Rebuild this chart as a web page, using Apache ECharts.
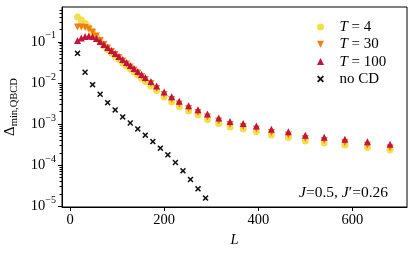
<!DOCTYPE html>
<html><head><meta charset="utf-8">
<script src="https://cdn.jsdelivr.net/npm/echarts@6/dist/echarts.min.js"></script>
<style>html,body{margin:0;padding:0;background:#fff}#c{width:415px;height:254px}</style>
</head><body><div id="c"></div>
<script>
// ---- data ----
const L_T = [16,24,32,40,48,56,64,72,80,88,96,104,112,120,128,136,144,152,160,172,184,200,216,232,252,272,292,316,340,368,396,428,464,500,540,584,632,680];
const gap_T4 = [0.398,0.3367,0.2768,0.2214,0.1720,0.1338,0.1011,0.0786,0.0646,0.0531,0.0437,0.0369,0.0304,0.0257,0.0217,0.0184,0.0155,0.0128,0.0108,0.00839,0.00652,0.00453,0.00342,0.00266,0.00207,0.00165,0.00129,0.00103,0.000845,0.000756,0.000657,0.000540,0.000470,0.000386,0.000345,0.000309,0.000268,0.000234];
const gap_T30 = [0.2276,0.2276,0.2214,0.2035,0.1720,0.1376,0.1070,0.0855,0.0703,0.0578,0.0489,0.0413,0.0340,0.0287,0.0243,0.0205,0.0174,0.0143,0.0121,0.00964,0.00729,0.00521,0.00394,0.00306,0.00238,0.00190,0.00148,0.00118,0.000972,0.000869,0.000756,0.000621,0.000540,0.000444,0.000397,0.000355,0.000304,0.000265];
const gap_T100 = [0.1070,0.1230,0.1338,0.1376,0.1338,0.1196,0.1011,0.0855,0.0723,0.0611,0.0517,0.0437,0.0369,0.0312,0.0264,0.0223,0.0189,0.0160,0.0135,0.0108,0.00839,0.00599,0.00461,0.00356,0.00278,0.00223,0.00175,0.00140,0.00115,0.00103,0.000894,0.000743,0.000650,0.000531,0.000475,0.000425,0.000369,0.000323];
const L_noCD = [16,32,48,64,80,96,112,128,144,160,176,192,208,224,240,256,272,288];
const gap_noCD = [0.0522,0.0181,0.00904,0.00528,0.00330,0.00220,0.00149,0.00106,0.00076,0.000535,0.000374,0.000259,0.000178,0.000116,0.0000727,0.0000447,0.0000266,0.0000158];
const seriesNames = ['T = 4','T = 30','T = 100','no CD'];
const xTicks = [0,200,400,600];
const yTicks = [1e-5,1e-4,1e-3,1e-2,1e-1];
const yMinorTicks = [2e-5,3e-5,4e-5,5e-5,6e-5,7e-5,8e-5,9e-5,2e-4,3e-4,4e-4,5e-4,6e-4,7e-4,8e-4,9e-4,2e-3,3e-3,4e-3,5e-3,6e-3,7e-3,8e-3,9e-3,2e-2,3e-2,4e-2,5e-2,6e-2,7e-2,8e-2,9e-2,0.2,0.3,0.4,0.5,0.6];
const annotation = ['J','=0.5, ','J','′=0.26'];

// ---- chart ----
const X_MIN = -17, X_MAX = 716, Y_MIN = 9.6e-6, Y_MAX = 0.7;
const FF = '"Liberation Serif", "DejaVu Serif", serif';
const zip = (a, b) => a.map((v, i) => [v, b[i]]);
const XPATH = 'path://M1.8,0L5,3.2L8.2,0L10,1.8L6.8,5L10,8.2L8.2,10L5,6.8L1.8,10L0,8.2L3.2,5L0,1.8Z';
const DOWN = 'path://M0,0L10,0L5,10Z';
const UP = 'path://M5,0L10,10L0,10Z';

const chart = echarts.init(document.getElementById('c'), null, {renderer: 'canvas'});
chart.setOption({
  animation: false,
  backgroundColor: '#fff',
  grid: {left: 62, right: 8, top: 7, bottom: 47, show: true, borderColor: '#000', borderWidth: 1, backgroundColor: 'transparent', containLabel: false, outerBoundsMode: 'none'},
  xAxis: {
    type: 'value', min: X_MIN, max: X_MAX,
    name: 'L', nameLocation: 'middle', nameGap: 26,
    nameTextStyle: {fontFamily: FF, fontSize: 14.5, fontStyle: 'italic', color: '#000'},
    axisLine: {show: true, onZero: false, lineStyle: {color: '#000', width: 1}},
    axisTick: {show: true, length: 4, customValues: xTicks, lineStyle: {color: '#000'}},
    axisLabel: {customValues: xTicks, fontFamily: FF, fontSize: 14.5, color: '#000', margin: 6},
    splitLine: {show: false}
  },
  yAxis: [{
    type: 'log', logBase: 10, min: Y_MIN, max: Y_MAX,
    name: '{d|Δ}{s|min,QBCD}', nameLocation: 'middle', nameGap: 40, nameRotate: 90,
    nameTextStyle: {color: '#000', rich: {
      d: {fontFamily: FF, fontSize: 15, color: '#000', lineHeight: 20, verticalAlign: 'middle'},
      s: {fontFamily: FF, fontSize: 10.5, color: '#000', lineHeight: 10, verticalAlign: 'bottom'}
    }},
    axisLine: {show: true, onZero: false, lineStyle: {color: '#000', width: 1}},
    axisTick: {show: true, length: 4, customValues: yTicks, lineStyle: {color: '#000'}},
    axisLabel: {
      customValues: yTicks, margin: 6, color: '#000',
      formatter: v => '{b|10}{s|−' + Math.round(-Math.log10(v)) + '}',
      rich: {
        b: {fontFamily: FF, fontSize: 14.5, color: '#000', lineHeight: 22, verticalAlign: 'middle'},
        s: {fontFamily: FF, fontSize: 10, color: '#000', lineHeight: 10, verticalAlign: 'top'}
      }
    },
    splitLine: {show: false}
  }, {
    type: 'log', logBase: 10, min: Y_MIN, max: Y_MAX, position: 'left', offset: 0,
    axisLine: {show: false, onZero: false},
    axisTick: {show: true, length: 2.5, customValues: yMinorTicks, lineStyle: {color: '#000', width: 1}},
    axisLabel: {show: false},
    splitLine: {show: false}
  }],
  legend: {
    orient: 'vertical', left: 312, top: 14, itemWidth: 28, itemHeight: 7, itemGap: 1.3,
    data: seriesNames,
    formatter: n => n.replace('T', '{i|T}'),
    textStyle: {fontFamily: FF, fontSize: 15, lineHeight: 16, color: '#000',
      rich: {i: {fontFamily: FF, fontSize: 15, fontStyle: 'italic', color: '#000'}}}
  },
  graphic: [{
    type: 'text', x: 388, y: 193, silent: true,
    style: {
      text: '{i|' + annotation[0] + '}' + annotation[1] + '{i|' + annotation[2] + '}' + annotation[3],
      align: 'right', verticalAlign: 'middle',
      fontFamily: FF, fontSize: 15.5, fill: '#000',
      rich: {i: {fontFamily: FF, fontSize: 15.5, fontStyle: 'italic', fill: '#000'}}
    }
  }],
  series: [
    {name: seriesNames[0], type: 'scatter', data: zip(L_T, gap_T4), symbol: 'circle', symbolSize: 7, itemStyle: {color: '#f3df4a', opacity: 1}},
    {name: seriesNames[1], type: 'scatter', data: zip(L_T, gap_T30), symbol: DOWN, symbolSize: 7, itemStyle: {color: '#f07f14', opacity: 1}},
    {name: seriesNames[2], type: 'scatter', data: zip(L_T, gap_T100), symbol: UP, symbolSize: 7, itemStyle: {color: '#c2143f', opacity: 1}},
    {name: seriesNames[3], type: 'scatter', data: zip(L_noCD, gap_noCD), symbol: XPATH, symbolSize: 6, itemStyle: {color: '#111', opacity: 1}}
  ]
});
</script></body></html>
